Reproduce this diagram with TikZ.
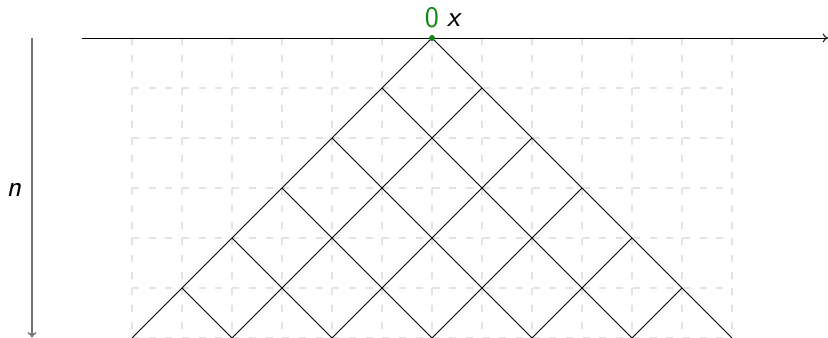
\documentclass[tikz,border=0pt]{standalone}
\usetikzlibrary{arrows.meta}
\definecolor{origgreen}{RGB}{20,135,20}
\tikzset{
  gridline/.style={gray!22, dash pattern=on 4pt off 5.5pt, line width=0.8pt},
  latline/.style={black, line width=0.5pt},
  axisline/.style={black, line width=0.5pt, -{To[length=3pt,width=5pt]}},
  naxis/.style={gray!90!black, line width=0.9pt, -{To[length=3pt,width=5pt]}},
  lbl/.style={font=\sffamily\fontsize{17}{20}\selectfont, inner sep=0pt}
}
\begin{document}
\begin{tikzpicture}[x=1cm,y=1cm]
\useasboundingbox (-8.64,-6.0) rectangle (7.92,0.76);
% grid
\foreach \i in {-6,...,6} \draw[gridline] (\i,0) -- (\i,-6);
\foreach \j in {1,...,6} \draw[gridline] (-6,-\j) -- (6,-\j);
% axes
\coordinate (xs) at (-7,0);
\coordinate (xe) at (7.92,0);
\draw[axisline] (xs) -- (xe);
\coordinate (ns) at (-8,0);
\coordinate (ne) at (-8,-5.99);
\draw[naxis] (ns) -- (ne);
% lattice
\foreach \k in {0,...,5} {
  \coordinate (r\k) at (\k,-\k);
  \coordinate (rb\k) at (-6+2*\k,-6);
  \coordinate (l\k) at (-\k,-\k);
  \coordinate (lb\k) at (6-2*\k,-6);
  \draw[latline] (r\k) -- (rb\k);
  \draw[latline] (l\k) -- (lb\k);
}
\fill[origgreen] (0,0) circle (0.06);
\node[lbl, text=origgreen] (zero) at (0,0.40) {0};
\node[lbl] (xl) at (0.45,0.36) {\textit{x}};
\node[lbl] (nl) at (-8.36,-3.04) {\textit{n}};
\end{tikzpicture}
\end{document}
